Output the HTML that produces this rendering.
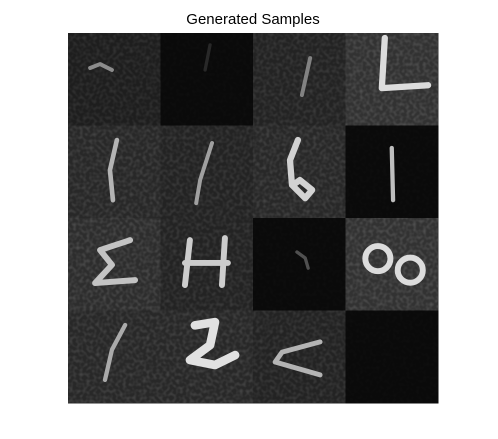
<!DOCTYPE html>
<html><head><meta charset="utf-8">
<style>
html,body{margin:0;padding:0;background:#fff;}
svg{display:block;font-family:"Liberation Sans","DejaVu Sans",sans-serif;}
</style></head>
<body>
<svg id="chart" width="498" height="439" viewBox="0 0 498 439">
<text x="253" y="24" text-anchor="middle" font-size="15" fill="#000">Generated Samples</text>
<defs>
<filter id="noise" x="0" y="0" width="100%" height="100%">
<feTurbulence type="fractalNoise" baseFrequency="0.3" numOctaves="1" seed="3"/>
<feColorMatrix type="matrix" values="0 0 0 0 1  0 0 0 0 1  0 0 0 0 1  0 0 0 0.9 -0.35"/>
</filter>
</defs>
<g id="grid"></g>
</svg>
<script>
// tile background gray level (row-major, 4x4)
const tileLevels = [30,10,35,50, 40,35,40,10, 45,35,10,50, 40,40,35,10];
// noise amount per tile (0..1)
const tileNoise = [0.6,0.1,0.7,0.9, 0.8,0.7,0.8,0.1, 0.9,0.7,0.1,0.9, 0.8,0.8,0.7,0.1];
// digit strokes in 28x28 tile units: [tileIndex, brightness, width, points]
const strokes = [
 [0,140,1.2,[[6.7,10.6],[9.7,9.4],[13.3,11.2]]],
 [1,40,1.0,[[15,3.6],[13.5,11.2]]],
 [2,130,1.2,[[17.3,7.6],[14.8,18.8]]],
 [3,220,1.9,[[11.9,1.5],[11,16.7],[25,15.8]]],
 [4,180,1.4,[[14.8,4.4],[12.7,13.5],[13.6,22.6]]],
 [5,160,1.2,[[15.6,5.3],[12,16.5],[10.8,23.5]]],
 [6,210,1.9,[[13.6,4.4],[11.2,10.5],[11.8,18],[15.8,22],[17.9,19.5],[14.2,16.5],[12.1,18]]],
 [7,190,1.3,[[14,6.8],[14.4,22.6]]],
 [8,195,1.8,[[18.8,6.7],[9.7,9.7],[13.3,14.2],[8.2,19.7],[20.3,18.8]]],
 [9,205,1.8,[[8.9,6.7],[7.4,20.3]]],
 [9,205,1.8,[[7.4,13.6],[20.4,13.6]]],
 [9,205,1.8,[[19.5,6.1],[18.6,20.3]]],
 [10,80,1.0,[[13.3,10.3],[15.8,12.1],[16.7,15.2]]],
 [12,170,1.3,[[17.3,4.4],[13.3,11.9],[11.2,21]]],
 [13,225,2.6,[[10.4,4.5],[16.5,3.5],[15,10.5],[8.9,15],[16.5,16.5],[22.6,13.5]]],
 [14,180,1.5,[[20.3,9.5],[8.8,12.6],[6.7,15.6],[20.3,19.5]]]
];
// loops (e.g. the sideways 8): [tileIndex, brightness, width, cx, cy, r]
const loops = [
 [11,220,1.8,9.8,12.3,3.8],
 [11,220,1.8,19.6,15.8,3.8]
];
const X0=68, Y0=33, SIZE=370, N=4, T=SIZE/N, U=T/28;
const sx=(tile,u)=>X0+(tile%N)*T+u*U;
const sy=(tile,v)=>Y0+Math.floor(tile/N)*T+v*U;
const NS="http://www.w3.org/2000/svg";
const g=document.getElementById('grid');
const gray=l=>`rgb(${l},${l},${l})`;
tileLevels.forEach((lv,i)=>{
  const r=document.createElementNS(NS,'rect');
  r.setAttribute('x',sx(i,0));r.setAttribute('y',sy(i,0));
  r.setAttribute('width',T+0.5);r.setAttribute('height',T+0.5);
  r.setAttribute('fill',gray(lv));
  
  
  g.appendChild(r);
  const n=document.createElementNS(NS,'rect');
  n.setAttribute('x',sx(i,0));n.setAttribute('y',sy(i,0));
  n.setAttribute('width',T);n.setAttribute('height',T);
  n.setAttribute('filter','url(#noise)');n.setAttribute('opacity',tileNoise[i]*0.4);
  
  
  g.appendChild(n);
});
strokes.forEach(s=>{
  const [t,b,w,pts]=s;
  const p=document.createElementNS(NS,'polyline');
  p.setAttribute('points',pts.map(q=>sx(t,q[0])+','+sy(t,q[1])).join(' '));
  p.setAttribute('fill','none');p.setAttribute('stroke',gray(b));
  p.setAttribute('stroke-width',w*U);p.setAttribute('stroke-linecap','round');p.setAttribute('stroke-linejoin','round');
  
  
  g.appendChild(p);
});
loops.forEach(l=>{
  const [t,b,w,cx,cy,r]=l;
  const c=document.createElementNS(NS,'circle');
  c.setAttribute('cx',sx(t,cx));c.setAttribute('cy',sy(t,cy));c.setAttribute('r',r*U);
  c.setAttribute('fill','none');c.setAttribute('stroke',gray(b));c.setAttribute('stroke-width',w*U);
  
  
  g.appendChild(c);
});
</script>
</body></html>
